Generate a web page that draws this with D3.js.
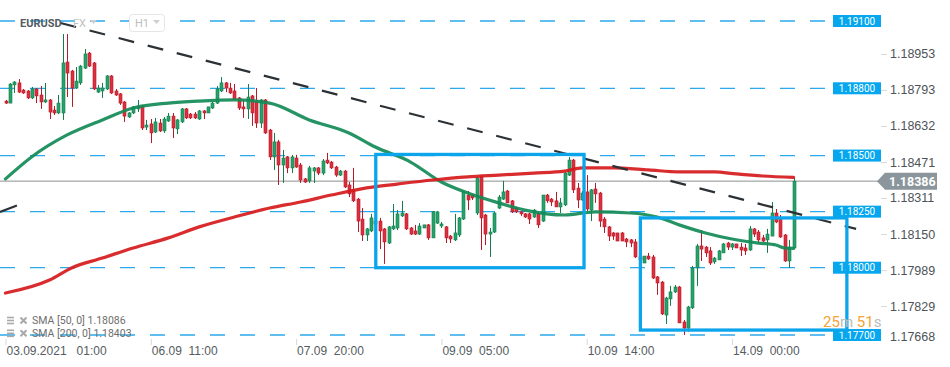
<!DOCTYPE html>
<html><head><meta charset="utf-8">
<script src="https://cdn.jsdelivr.net/npm/d3@7"></script>
<style>
body{margin:0;background:#fff;}
svg{display:block;font-family:Roboto, "Open Sans", sans-serif;}
</style>
</head><body>
<svg id="c" width="950" height="367"></svg>
<script>
// ---- data (EURUSD H1) ----
const opens = [1.18743,1.18734,1.18815,1.18824,1.18792,1.18788,1.18757,1.18797,1.18770,1.18739,
1.18748,1.18703,1.18690,1.18690,1.18917,1.18877,1.18801,1.18824,1.18890,1.18957,
1.18913,1.18783,1.18788,1.18797,1.18855,1.18788,1.18775,1.18739,1.18672,1.18690,
1.18708,1.18721,1.18627,1.18641,1.18605,1.18645,1.18610,1.18654,1.18676,1.18619,
1.18650,1.18708,1.18685,1.18685,1.18663,1.18699,1.18690,1.18712,1.18734,1.18788,
1.18824,1.18801,1.18788,1.18757,1.18717,1.18708,1.18766,1.18739,1.18645,1.18748,
1.18614,1.18494,1.18561,1.18458,1.18494,1.18445,1.18489,1.18458,1.18396,1.18387,
1.18431,1.18445,1.18422,1.18480,1.18471,1.18449,1.18413,1.18431,1.18369,1.18347,
1.18306,1.18217,1.18146,1.18164,1.18195,1.18208,1.18173,1.18110,1.18173,1.18177,
1.18231,1.18240,1.18177,1.18164,1.18150,1.18177,1.18191,1.18133,1.18199,1.18186,
1.18182,1.18141,1.18124,1.18146,1.18217,1.18324,1.18324,1.18244,1.18405,1.18235,
1.18150,1.18159,1.18266,1.18306,1.18342,1.18298,1.18266,1.18249,1.18240,1.18240,
1.18226,1.18240,1.18208,1.18324,1.18306,1.18298,1.18271,1.18280,1.18413,1.18480,
1.18355,1.18302,1.18338,1.18257,1.18351,1.18333,1.18217,1.18182,1.18155,1.18155,
1.18155,1.18128,1.18124,1.18115,1.18048,1.18021,1.18052,1.18048,1.17959,1.17936,
1.17789,1.17861,1.17892,1.17914,1.17758,1.17731,1.17821,1.17999,1.18097,1.18092,
1.18075,1.18026,1.18035,1.18066,1.18110,1.18092,1.18106,1.18092,1.18088,1.18079,
1.18173,1.18159,1.18133,1.18124,1.18141,1.18244,1.18222,1.18146,1.18030,1.18088];
const highs = [1.18748,1.18823,1.18832,1.18841,1.18797,1.18792,1.18806,1.18801,1.18810,1.18824,
1.18752,1.18721,1.18770,1.19042,1.19042,1.18882,1.18895,1.18904,1.18975,1.18962,
1.18917,1.18815,1.18824,1.18859,1.18859,1.18797,1.18779,1.18743,1.18694,1.18721,
1.18748,1.18726,1.18659,1.18663,1.18668,1.18663,1.18672,1.18690,1.18690,1.18663,
1.18712,1.18712,1.18690,1.18694,1.18703,1.18703,1.18717,1.18739,1.18810,1.18850,
1.18828,1.18824,1.18819,1.18761,1.18748,1.18819,1.18770,1.18801,1.18752,1.18752,
1.18619,1.18601,1.18570,1.18525,1.18498,1.18503,1.18503,1.18467,1.18400,1.18454,
1.18449,1.18449,1.18485,1.18512,1.18476,1.18454,1.18436,1.18436,1.18382,1.18445,
1.18311,1.18266,1.18177,1.18240,1.18217,1.18222,1.18177,1.18186,1.18284,1.18257,
1.18298,1.18244,1.18182,1.18191,1.18199,1.18191,1.18195,1.18253,1.18253,1.18204,
1.18186,1.18146,1.18240,1.18226,1.18342,1.18342,1.18329,1.18405,1.18413,1.18240,
1.18177,1.18249,1.18324,1.18387,1.18347,1.18302,1.18271,1.18253,1.18244,1.18244,
1.18262,1.18249,1.18324,1.18329,1.18311,1.18338,1.18311,1.18427,1.18494,1.18485,
1.18378,1.18342,1.18413,1.18351,1.18378,1.18338,1.18226,1.18186,1.18159,1.18155,
1.18159,1.18133,1.18128,1.18128,1.18052,1.18052,1.18066,1.18057,1.17963,1.17941,
1.17870,1.17919,1.17923,1.17919,1.17767,1.17830,1.18008,1.18106,1.18168,1.18097,
1.18092,1.18048,1.18079,1.18110,1.18115,1.18110,1.18106,1.18110,1.18106,1.18186,
1.18177,1.18168,1.18146,1.18173,1.18293,1.18262,1.18235,1.18150,1.18124,1.18400];
const lows = [1.18730,1.18734,1.18779,1.18779,1.18775,1.18752,1.18752,1.18734,1.18708,1.18734,
1.18663,1.18681,1.18685,1.18659,1.18761,1.18717,1.18797,1.18815,1.18886,1.18895,
1.18792,1.18779,1.18757,1.18792,1.18775,1.18766,1.18726,1.18650,1.18668,1.18685,
1.18694,1.18614,1.18614,1.18556,1.18601,1.18605,1.18601,1.18650,1.18578,1.18596,
1.18645,1.18663,1.18663,1.18663,1.18659,1.18663,1.18690,1.18708,1.18730,1.18783,
1.18783,1.18775,1.18748,1.18703,1.18668,1.18663,1.18632,1.18623,1.18623,1.18596,
1.18480,1.18436,1.18369,1.18378,1.18422,1.18422,1.18445,1.18378,1.18378,1.18378,
1.18378,1.18413,1.18413,1.18462,1.18440,1.18405,1.18409,1.18355,1.18315,1.18293,
1.18159,1.18119,1.18119,1.18159,1.18186,1.18083,1.18017,1.18106,1.18168,1.18168,
1.18226,1.18168,1.18146,1.18146,1.18146,1.18177,1.18124,1.18133,1.18195,1.18177,
1.18110,1.18110,1.18119,1.18137,1.18213,1.18257,1.18302,1.18235,1.18079,1.18101,
1.18048,1.18155,1.18262,1.18302,1.18289,1.18244,1.18244,1.18231,1.18222,1.18195,
1.18222,1.18177,1.18204,1.18289,1.18275,1.18271,1.18244,1.18275,1.18409,1.18333,
1.18266,1.18298,1.18253,1.18208,1.18289,1.18182,1.18155,1.18119,1.18124,1.18119,
1.18119,1.18092,1.18092,1.18043,1.18030,1.18021,1.18035,1.17950,1.17879,1.17789,
1.17749,1.17830,1.17887,1.17754,1.17700,1.17714,1.17816,1.17919,1.18030,1.18048,
1.18012,1.18017,1.18035,1.18066,1.18079,1.18079,1.18088,1.18052,1.18057,1.18075,
1.18137,1.18110,1.18115,1.18066,1.18141,1.18199,1.18133,1.18026,1.17999,1.18088];
const closes = [1.18734,1.18819,1.18828,1.18783,1.18779,1.18757,1.18797,1.18766,1.18739,1.18748,
1.18694,1.18690,1.18734,1.18913,1.18868,1.18801,1.18832,1.18899,1.18953,1.18899,
1.18797,1.18801,1.18801,1.18855,1.18779,1.18770,1.18734,1.18676,1.18690,1.18717,
1.18717,1.18623,1.18636,1.18601,1.18650,1.18610,1.18663,1.18676,1.18623,1.18659,
1.18708,1.18668,1.18668,1.18668,1.18699,1.18690,1.18717,1.18734,1.18797,1.18824,
1.18801,1.18779,1.18752,1.18712,1.18708,1.18761,1.18690,1.18645,1.18748,1.18601,
1.18494,1.18561,1.18458,1.18489,1.18445,1.18494,1.18449,1.18391,1.18382,1.18445,
1.18445,1.18422,1.18476,1.18467,1.18445,1.18413,1.18431,1.18360,1.18329,1.18298,
1.18208,1.18146,1.18173,1.18222,1.18208,1.18164,1.18115,1.18182,1.18186,1.18240,
1.18244,1.18173,1.18150,1.18150,1.18186,1.18191,1.18133,1.18249,1.18249,1.18195,
1.18133,1.18128,1.18155,1.18222,1.18338,1.18302,1.18311,1.18400,1.18222,1.18150,
1.18159,1.18244,1.18315,1.18338,1.18289,1.18249,1.18249,1.18240,1.18226,1.18217,
1.18257,1.18191,1.18324,1.18298,1.18293,1.18271,1.18289,1.18422,1.18480,1.18347,
1.18302,1.18333,1.18262,1.18347,1.18329,1.18208,1.18182,1.18141,1.18141,1.18119,
1.18119,1.18115,1.18110,1.18048,1.18035,1.18052,1.18039,1.17954,1.17932,1.17794,
1.17865,1.17892,1.17914,1.17754,1.17731,1.17825,1.17999,1.18097,1.18083,1.18066,
1.18021,1.18043,1.18075,1.18106,1.18092,1.18106,1.18088,1.18079,1.18075,1.18173,
1.18150,1.18124,1.18119,1.18150,1.18244,1.18204,1.18137,1.18030,1.18092,1.18386];

// SMA readings (bar index -> value)
const sma50Idx = [0,6,14,22,29,37,44,52,60,69,78,84,92,99,105,112,118,127,134,142,148,153,159,165,171,175,177,179];
const sma50Val = [1.18396,1.18495,1.18592,1.18659,1.18712,1.18734,1.18743,1.18748,1.18734,1.18659,1.18601,1.18538,1.18471,1.18382,1.18333,1.18289,1.18257,1.18235,1.18249,1.18244,1.18226,1.18191,1.18155,1.18128,1.18110,1.18101,1.18088,1.18086];
const sma200Idx = [0,10,15,22,29,37,44,52,60,67,74,82,89,97,105,112,120,127,131,138,146,153,161,166,172,179];
const sma200Val = [1.17887,1.17945,1.17999,1.18043,1.18088,1.18133,1.18182,1.18226,1.18266,1.18293,1.18324,1.18356,1.18373,1.18391,1.18405,1.18413,1.18422,1.18431,1.18445,1.18445,1.18436,1.18427,1.18427,1.18418,1.18409,1.18403];

// drawings
const levels = [1.19100,1.18800,1.18500,1.18250,1.18000,1.17700];
const trendIdx = [12.5,193.2];
const trendVal = [1.19091,1.18173];
const trend2Idx = [-1.25,2.6];
const trend2Val = [1.18249,1.18277];
const boxStart = [84.1,144.2];
const boxEnd = [131.4,191.1];
const boxTop = [1.18505,1.18222];
const boxBottom = [1.18000,1.17722];
const lastPrice = 1.18386;

// axes
const yTicks = [1.18953,1.18793,1.18632,1.18471,1.18311,1.18150,1.17989,1.17829,1.17668];
const xTickIdx = [0,33,66,99,132,165];
const xTickLabels = ["03.09.2021   01:00","06.09  11:00","07.09  20:00","09.09  05:00","10.09  14:00","14.09  00:00"];

// ---- drawing ----
const svg = d3.select("#c");
const x = d3.scaleLinear().domain([0,179]).range([5.5,793.6]);
const y = d3.scaleLinear().domain([1.177,1.191]).range([335,21]);
const bars = d3.range(opens.length).map(i=>({i,o:opens[i],h:highs[i],l:lows[i],c:closes[i]}));

svg.append("defs").append("clipPath").attr("id","plot")
  .append("rect").attr("x",0).attr("y",0).attr("width",880).attr("height",341);

const g = svg.append("g").attr("clip-path","url(#plot)");

// level lines
g.selectAll("line.lvl").data(levels).join("line").attr("class","lvl")
  .attr("x1",0).attr("x2",833).attr("y1",d=>y(d)).attr("y2",d=>y(d))
  .attr("stroke","#2aa9ec").attr("stroke-width",1.3).attr("stroke-dasharray","15,15");

// last price line
g.append("line").attr("x1",0).attr("x2",878)
  .attr("y1",y(lastPrice)).attr("y2",y(lastPrice))
  .attr("stroke","#8e8e8e").attr("stroke-width",1);

// candles
const up = d=>d.c>=d.o;
const cg = g.append("g");
cg.selectAll("line").data(bars).join("line")
  .attr("x1",d=>Math.round(x(d.i))+0.5).attr("x2",d=>Math.round(x(d.i))+0.5)
  .attr("y1",d=>y(d.h)).attr("y2",d=>y(d.l))
  .attr("stroke",d=>up(d)?"#137d4c":"#b51a28").attr("stroke-width",1);
cg.selectAll("rect").data(bars).join("rect")
  .attr("x",d=>Math.round(x(d.i))-1).attr("width",3)
  .attr("y",d=>y(Math.max(d.o,d.c)))
  .attr("height",d=>Math.max(1.2,Math.abs(y(d.o)-y(d.c))))
  .attr("fill",d=>up(d)?"#26a36c":"#dd2f3e")
  .attr("stroke",d=>up(d)?"#137d4c":"#b51a28").attr("stroke-width",0.6);

// SMA lines
const sline = d3.line().x(d=>x(d[0])).y(d=>y(d[1])).curve(d3.curveMonotoneX);
g.append("path").datum(d3.zip(sma50Idx,sma50Val)).attr("d",sline)
  .attr("fill","none").attr("stroke","#128a56").attr("stroke-width",3.2).attr("stroke-opacity",0.92).attr("stroke-linecap","round");
g.append("path").datum(d3.zip(sma200Idx,sma200Val)).attr("d",sline)
  .attr("fill","none").attr("stroke","#d61a1c").attr("stroke-width",3.2).attr("stroke-opacity",0.92).attr("stroke-linecap","round");

// trendlines
const tline = d3.line().x(d=>x(d[0])).y(d=>y(d[1]));
g.append("path").datum(d3.zip(trendIdx,trendVal)).attr("d",tline)
  .attr("fill","none").attr("stroke","#2c3135").attr("stroke-width",2.2).attr("stroke-dasharray","16,14");
g.append("path").datum(d3.zip(trend2Idx,trend2Val)).attr("d",tline)
  .attr("fill","none").attr("stroke","#2c3135").attr("stroke-width",2.2);

// level label boxes
const lb = svg.append("g");
lb.selectAll("rect").data(levels).join("rect")
  .attr("x",833).attr("width",48).attr("y",d=>y(d)-6).attr("height",12).attr("fill","#06a7ee");
lb.selectAll("text").data(levels).join("text")
  .attr("x",857).attr("y",d=>y(d)).attr("dy","0.35em").attr("text-anchor","middle")
  .attr("fill","#fff").style("font-size","10px").text(d=>d3.format(".5f")(d));

// rectangles
svg.selectAll("rect.box").data(d3.range(boxStart.length)).join("rect").attr("class","box")
  .attr("x",k=>x(boxStart[k])).attr("y",k=>y(boxTop[k]))
  .attr("width",k=>x(boxEnd[k])-x(boxStart[k])).attr("height",k=>y(boxBottom[k])-y(boxTop[k]))
  .attr("fill","none").attr("stroke","#0ca5ec").attr("stroke-width",3.3);

// right axis
const ay = svg.append("g").attr("transform","translate(881,0)")
  .call(d3.axisRight(y).tickValues(yTicks).tickSize(6).tickPadding(3).tickFormat(d3.format(".5f")));
ay.select(".domain").remove();
ay.selectAll("line").attr("stroke","#d8d8d8");
ay.selectAll("text").attr("fill","#4d5358").style("font-size","12.5px");
ay.selectAll(".tick").filter(d=>y(d)>336).each(function(d){
  d3.select(this).select("line").remove();
  d3.select(this).select("text").attr("y",336-y(d));
});

// last price tag
const ly = y(lastPrice);
svg.append("path")
  .attr("d",`M877,${ly} L885,${ly-8.5} L937,${ly-8.5} L937,${ly+8.5} L885,${ly+8.5} Z`)
  .attr("fill","#8b969c");
svg.append("text").attr("x",889).attr("y",ly).attr("dy","0.35em")
  .attr("fill","#fff").style("font-size","12.5px").style("font-weight","bold").text(d3.format(".5f")(lastPrice));

// bottom axis
const ax = svg.append("g").attr("transform","translate(0,339)")
  .call(d3.axisBottom(x).tickValues(xTickIdx).tickSize(6).tickFormat((d,k)=>xTickLabels[k]));
ax.select(".domain").remove();
ax.selectAll("line").attr("stroke","#d8d8d8");
ax.selectAll("text").attr("text-anchor","start").attr("x",0.5).attr("y",7)
  .attr("fill","#555b60").style("font-size","12px").style("white-space","pre");

// header
const hd = svg.append("g");
hd.append("text").attr("x",20).attr("y",23).attr("dy","0.35em").attr("fill","#545a60")
  .style("font-size","11px").style("font-weight","bold").text("EURUSD");
hd.append("text").attr("x",73).attr("y",23).attr("dy","0.35em").attr("fill","#c3c3c3")
  .style("font-size","11px").text("FX");
hd.append("path").attr("d","M90,20 L97,20 L93.5,24 Z").attr("fill","#cfcfcf");
hd.append("rect").attr("x",129.5).attr("y",14.5).attr("width",35).attr("height",17).attr("rx",3)
  .attr("fill","#fff").attr("stroke","#e6e6e6");
hd.append("text").attr("x",135).attr("y",23).attr("dy","0.35em").attr("fill","#bdbdbd")
  .style("font-size","11px").text("H1");
hd.append("path").attr("d","M153,20 L160,20 L156.5,24 Z").attr("fill","#cfcfcf");

// legend
const legendNames = ["SMA [50, 0] 1.18086","SMA [200, 0] 1.18403"];
const lg = svg.append("g");
legendNames.forEach((t,k)=>{
  const yy = 320.5 + k*12.8;
  [-3,0,3].forEach(o=>lg.append("rect").attr("x",7).attr("y",yy+o-0.8).attr("width",7).attr("height",1.6).attr("fill","#a9a9a9"));
  lg.append("path").attr("d",`M20.5,${yy-3} L26.5,${yy+3} M26.5,${yy-3} L20.5,${yy+3}`)
    .attr("stroke","#a9a9a9").attr("stroke-width",2);
  lg.append("text").attr("x",32).attr("y",yy).attr("dy","0.35em").attr("fill","#6e6e6e")
    .style("font-size","10.5px").text(t);
});

// countdown
const cd = svg.append("text").attr("x",823).attr("y",322).attr("dy","0.35em").style("font-size","15px");
cd.append("tspan").attr("fill","#f5a335").text("25");
cd.append("tspan").attr("fill","#bdbdbd").text("m ");
cd.append("tspan").attr("fill","#f5a335").text("51");
cd.append("tspan").attr("fill","#bdbdbd").text("s");
</script>
</body></html>
